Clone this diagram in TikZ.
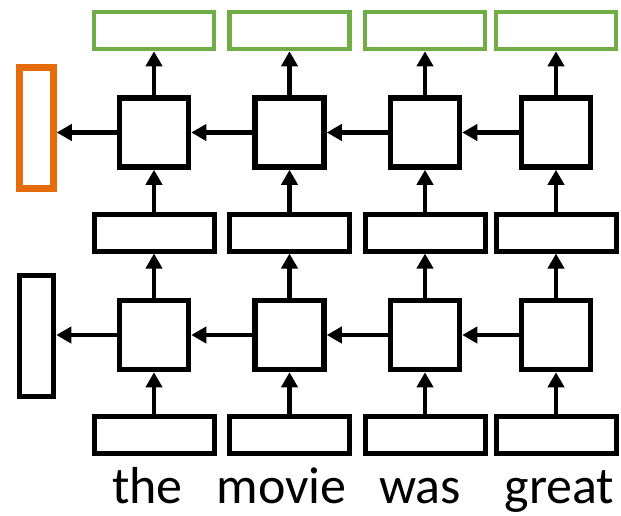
\documentclass[tikz,border=0pt]{standalone}
\usepackage{fontspec}
\setmainfont{Carlito}
\usetikzlibrary{arrows.meta}
\definecolor{gboxc}{RGB}{112,173,71}
\definecolor{oboxc}{RGB}{228,108,10}
\tikzset{
  wbox/.style={draw=black, line width=5pt, minimum width=120pt, minimum height=37pt, inner sep=0pt},
  gbox/.style={wbox, draw=gboxc, line width=4.5pt},
  cell/.style={draw=black, line width=5.5pt, minimum width=69pt, minimum height=69pt, inner sep=0pt},
  vbox/.style={draw=black, line width=5.5pt, minimum width=34pt, minimum height=121pt, inner sep=0pt},
  obox/.style={vbox, draw=oboxc, line width=6.5pt},
  arr/.style={line width=4.5pt, -{Triangle[length=15pt,width=16pt]}},
  word/.style={font=\fontsize{52}{60}\selectfont, anchor=base, inner sep=0pt}
}
\begin{document}
\begin{tikzpicture}[x=1pt,y=-1pt]
\useasboundingbox (0,0) rectangle (621,515);
% columns
\foreach \i/\x in {1/154,2/289.5,3/425,4/556}{
  \node[gbox] (g\i) at (\x,30.5) {};
  \node[cell] (u\i) at (\x,132.5) {};
  \node[wbox] (m\i) at (\x,232.5) {};
  \node[cell] (l\i) at (\x,335) {};
  \node[wbox] (b\i) at (\x,435) {};
}
\node[obox] (o) at (36.5,128) {};
\node[vbox] (k) at (36.5,336) {};
% vertical arrows
\foreach \i in {1,2,3,4}{
  \draw[arr] (b\i.north) -- (l\i.south);
  \draw[arr] (l\i.north) -- (m\i.south);
  \draw[arr] (m\i.north) -- (u\i.south);
  \draw[arr] (u\i.north) -- (g\i.south);
}
% horizontal arrows
\draw[arr] (u4.west) -- (u3.east);
\draw[arr] (u3.west) -- (u2.east);
\draw[arr] (u2.west) -- (u1.east);
\draw[arr] (u1.west) -- (o.east |- u1.west);
\draw[arr] (l4.west) -- (l3.east);
\draw[arr] (l3.west) -- (l2.east);
\draw[arr] (l2.west) -- (l1.east);
\draw[arr] (l1.west) -- (k.east |- l1.west);
% words
\node[word] (w1) at (147.5,503) {the};
\node[word] (w2) at (281.5,503) {movie};
\node[word] (w3) at (420,503) {was};
\node[word] (w4) at (559.5,503) {great};
\end{tikzpicture}
\end{document}
